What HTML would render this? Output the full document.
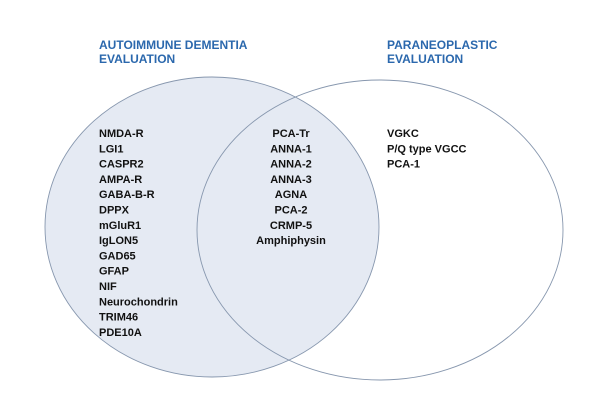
<!DOCTYPE html>
<html><head><style>
body{margin:0;background:#fff}
svg text{font-family:"Liberation Sans",sans-serif;font-weight:bold}
</style></head><body>
<svg width="600" height="413" viewBox="0 0 600 413">
<rect width="600" height="413" fill="#fff"/>
<ellipse cx="212" cy="227" rx="167" ry="150" fill="#e5eaf3" stroke="#8797ae" stroke-width="0.9"/>
<ellipse cx="380" cy="230" rx="183" ry="150" fill="none" stroke="#8797ae" stroke-width="0.9"/>
<g fill="#2b68ad" font-size="12">
<text x="99" y="49">AUTOIMMUNE DEMENTIA</text>
<text x="99" y="63">EVALUATION</text>
<text x="387" y="49">PARANEOPLASTIC</text>
<text x="387" y="63">EVALUATION</text>
</g>
<g fill="#111" font-size="11">
<text x="99" y="137">NMDA-R</text>
<text x="99" y="152.3">LGI1</text>
<text x="99" y="167.6">CASPR2</text>
<text x="99" y="182.9">AMPA-R</text>
<text x="99" y="198.2">GABA-B-R</text>
<text x="99" y="213.5">DPPX</text>
<text x="99" y="228.8">mGluR1</text>
<text x="99" y="244.1">IgLON5</text>
<text x="99" y="259.4">GAD65</text>
<text x="99" y="274.7">GFAP</text>
<text x="99" y="290">NIF</text>
<text x="99" y="305.3">Neurochondrin</text>
<text x="99" y="320.6">TRIM46</text>
<text x="99" y="335.9">PDE10A</text>
</g>
<g fill="#111" font-size="11" text-anchor="middle">
<text x="291" y="137">PCA-Tr</text>
<text x="291" y="152.3">ANNA-1</text>
<text x="291" y="167.6">ANNA-2</text>
<text x="291" y="182.9">ANNA-3</text>
<text x="291" y="198.2">AGNA</text>
<text x="291" y="213.5">PCA-2</text>
<text x="291" y="228.8">CRMP-5</text>
<text x="291" y="244.1">Amphiphysin</text>
</g>
<g fill="#111" font-size="11">
<text x="387" y="137">VGKC</text>
<text x="387" y="152.3">P/Q type VGCC</text>
<text x="387" y="167.6">PCA-1</text>
</g>
</svg>
</body></html>
